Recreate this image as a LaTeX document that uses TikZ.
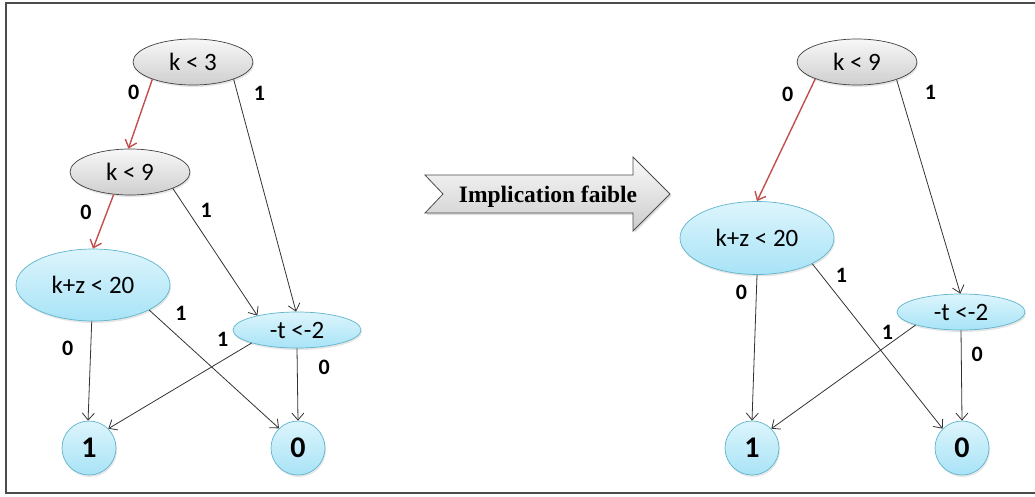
\documentclass[tikz,border=0pt]{standalone}
\usepackage{fontspec}
\setmainfont{Carlito}
\newfontfamily\arrowfont{Liberation Serif}
\usetikzlibrary{arrows.meta,shapes.geometric,shadows}

\definecolor{lowred}{HTML}{C0504D}
\definecolor{nodeline}{HTML}{5FB4CC}
\definecolor{nodetop}{HTML}{DDF5FC}
\definecolor{nodebot}{HTML}{A8E3F7}

\begin{document}
\begin{tikzpicture}[x=1pt, y=-1pt,
    every node/.style={inner sep=0pt},
    greytest/.style={ellipse, draw=black!75, line width=0.7pt,
                     top color=gray!6, bottom color=gray!38,
                     drop shadow={opacity=0.2, shadow xshift=1pt, shadow yshift=-2pt},
                     minimum width=120pt, minimum height=46pt,
                     font=\fontsize{25}{28}\selectfont},
    bluetest/.style={ellipse, draw=nodeline, line width=0.7pt,
                     top color=nodetop, bottom color=nodebot,
                     drop shadow={opacity=0.2, shadow xshift=1pt, shadow yshift=-2pt},
                     font=\fontsize{25}{28}\selectfont},
    leaf/.style={circle, draw=nodeline, line width=0.7pt,
                 top color=nodetop, bottom color=nodebot,
                 drop shadow={opacity=0.2, shadow xshift=1pt, shadow yshift=-2pt},
                 minimum size=54pt, font=\fontsize{30}{34}\selectfont\bfseries},
    wire/.style={draw=black!80, line width=0.8pt,
                 -{Straight Barb[length=7pt,width=12pt]}},
    low/.style={wire, draw=lowred, line width=1.4pt},
    lbl/.style={font=\fontsize{22}{24}\selectfont\bfseries, inner sep=1pt}]
    \useasboundingbox (0,0) rectangle (1035,496);
    \draw[black!70, line width=1.2pt] (6,3) rectangle (1045,493);

   % left diagram
   \node[greytest] (l_k3)  at (193,62)  {k < 3};
   \node[greytest] (l_k9)  at (130,172) {k < 9};
   \node[bluetest, minimum width=154pt, minimum height=72pt] (l_kz) at (93,285) {k+z < 20};
   \node[bluetest, minimum width=128pt, minimum height=36pt] (l_t)  at (297,330) {-t <-2};
   \node[leaf]     (l_one)  at (89,448)  {1};
   \node[leaf]     (l_zero) at (298,448) {0};

   \path
    (l_k3.203) edge[low]  node[lbl, pos=.19, xshift=-14pt] {0} (l_k9.94)
    (l_k3.337) edge[wire] node[lbl, pos=.06, xshift=22pt]  {1} (l_t.93)
    (l_k9.234) edge[low]  node[lbl, pos=.33, xshift=-21pt] {0} (l_kz.90)
    (l_k9.339) edge[wire] node[lbl, pos=.17, xshift=19pt]  {1} (l_t.160)
    (l_kz.268) edge[wire] node[lbl, pos=.27, xshift=-23pt] {0} (l_one.92)
    (l_kz.336) edge[wire] node[lbl, pos=.03, xshift=28pt]  {1} (l_zero.134)
    (l_t.196)  edge[wire] node[lbl, pos=0, xshift=-29pt, yshift=4pt] {1} (l_one.45)
    (l_t.270)  edge[wire] node[lbl, pos=.26, xshift=27pt]  {0} (l_zero.90);

   % big arrow
   \draw[black!70, line width=0.8pt, top color=gray!4, bottom color=gray!40,
         drop shadow={opacity=0.25, shadow xshift=1.5pt, shadow yshift=-2pt}]
    (425,175) -- (633,175) -- (633,157) -- (670,194) -- (633,231)
    -- (633,213) -- (425,213) -- (443,194) -- cycle;
   \node[anchor=base, font=\arrowfont\bfseries\fontsize{23.5}{26}\selectfont] (impl) at (548,202) {Implication faible};

   % right diagram
   \node[greytest] (r_k9)  at (857,62)  {k < 9};
   \node[bluetest, minimum width=154pt, minimum height=73pt] (r_kz) at (757,238) {k+z < 20};
   \node[bluetest, minimum width=128pt, minimum height=36pt] (r_t)  at (961,312) {-t <-2};
   \node[leaf]     (r_one)  at (752,448) {1};
   \node[leaf]     (r_zero) at (962,448) {0};

   \path
    (r_k9.202) edge[low]  node[lbl, pos=.13, xshift=-20pt] {0} (r_kz.90)
    (r_k9.336) edge[wire] node[lbl, pos=.06, xshift=30pt]  {1} (r_t.92)
    (r_kz.270) edge[wire] node[lbl, pos=.12, xshift=-15pt] {0} (r_one.90)
    (r_kz.335) edge[wire] node[lbl, pos=.07, xshift=20pt]  {1} (r_zero.135)
    (r_t.196)  edge[wire] node[lbl, pos=.07, xshift=-18pt] {1} (r_one.45)
    (r_t.270)  edge[wire] node[lbl, pos=.27, xshift=16pt]  {0} (r_zero.90);

\end{tikzpicture}
\end{document}
